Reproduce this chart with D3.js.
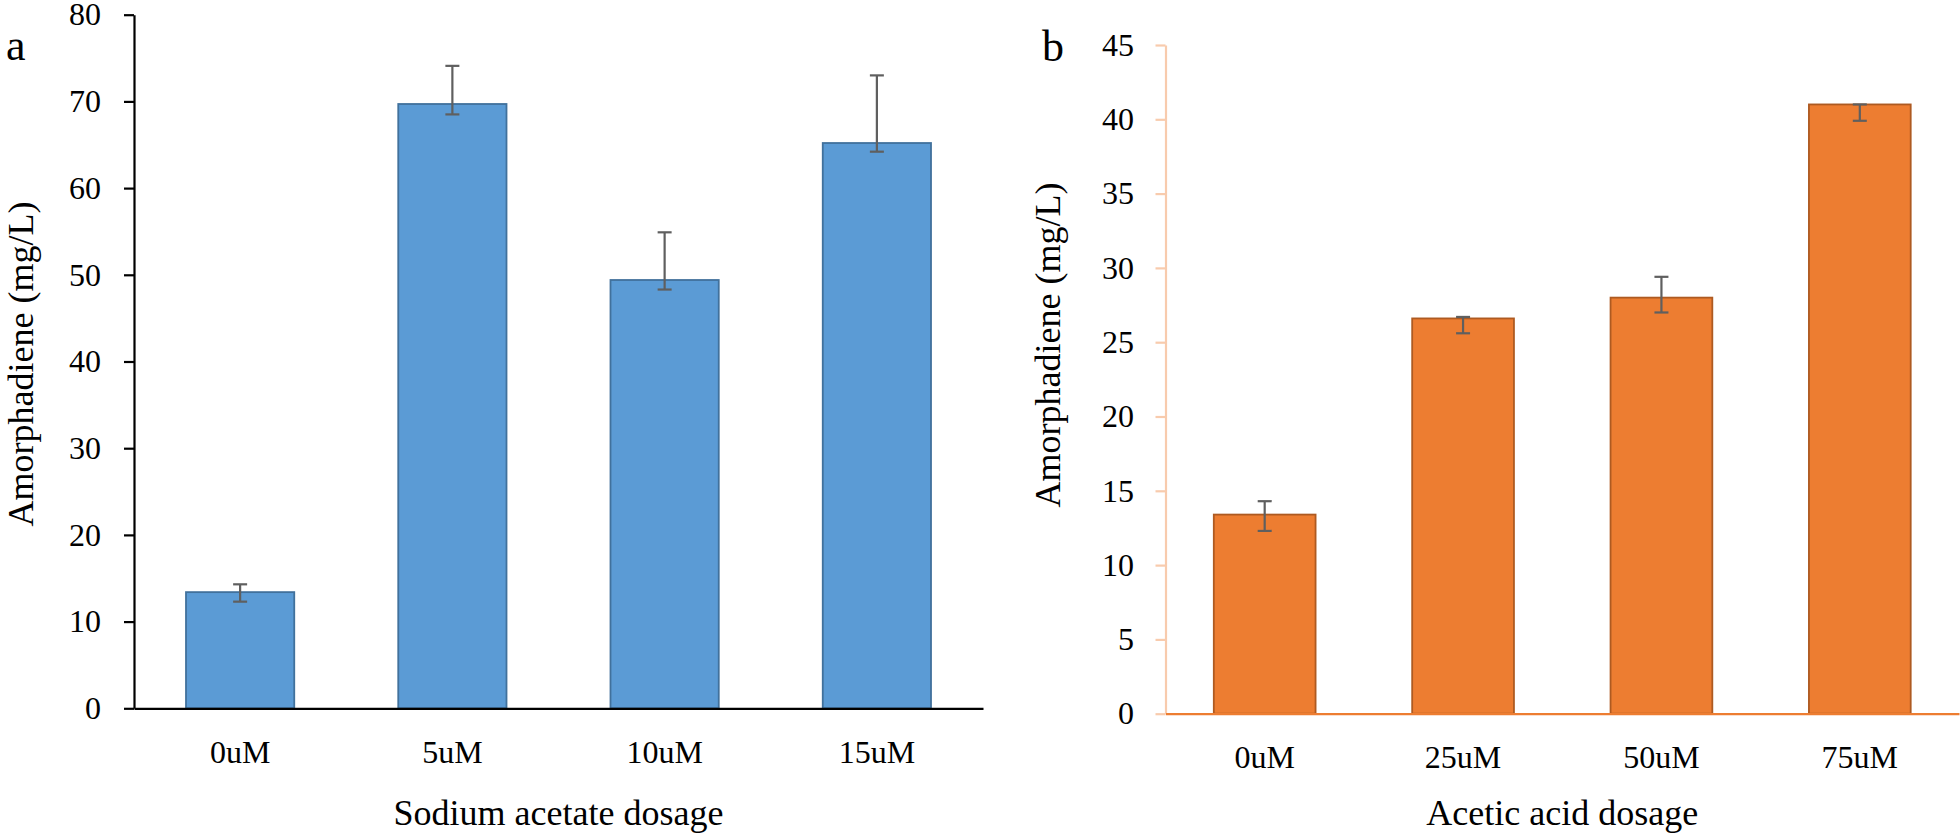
<!DOCTYPE html>
<html>
<head>
<meta charset="utf-8">
<script src="https://cdn.jsdelivr.net/npm/d3@7"></script>
<style>
  html, body { margin: 0; padding: 0; background: #fff; }
  svg { display: block; }
  text { font-family: "Liberation Serif", "Times New Roman", serif; fill: #000; }
</style>
</head>
<body>
<svg id="chart" width="1960" height="840"></svg>
<script>
// ---- Panel a data ----
const catsA = ["0uM", "5uM", "10uM", "15uM"];
const valsA = [13.4, 69.7, 49.4, 65.2];
const errHiA = [14.3, 74.1, 54.9, 73.0];
const errLoA = [12.3, 68.5, 48.3, 64.2];
const ticksA = [0, 10, 20, 30, 40, 50, 60, 70, 80];

// ---- Panel b data ----
const catsB = ["0uM", "25uM", "50uM", "75uM"];
const valsB = [13.4, 26.6, 28.0, 41.0];
const errHiB = [14.3, 26.7, 29.4, 41.0];
const errLoB = [12.3, 25.6, 27.0, 39.9];
const ticksB = [0, 5, 10, 15, 20, 25, 30, 35, 40, 45];

const svg = d3.select("#chart");

function panel(opts) {
  const g = svg.append("g");
  const x = d3.scaleBand().domain(opts.cats).range(opts.xr)
    .paddingInner(opts.pad).paddingOuter(opts.pad / 2);
  const y = d3.scaleLinear().domain(opts.yd).range(opts.yr);

  // y axis
  const ya = g.append("g").attr("transform", `translate(${opts.xr[0]},0)`)
    .call(d3.axisLeft(y).tickValues(opts.ticks).tickSize(10).tickSizeOuter(0).tickPadding(opts.tpad));
  ya.select(".domain").attr("stroke", opts.yAxisColor).attr("stroke-width", 2.2);
  ya.selectAll(".tick line").attr("stroke", opts.yAxisColor).attr("stroke-width", 2.2);
  ya.selectAll(".tick text").style("font-size", "32px").style("font-family", '"Liberation Serif", "Times New Roman", serif').attr("fill", "#000");

  // bars
  const data = opts.cats.map((c, i) => ({ c, v: opts.vals[i], hi: opts.hi[i], lo: opts.lo[i] }));
  g.selectAll("rect.bar").data(data).enter().append("rect")
    .attr("class", "bar")
    .attr("x", d => x(d.c))
    .attr("width", x.bandwidth())
    .attr("y", d => y(d.v))
    .attr("height", d => y(0) - y(d.v))
    .attr("fill", opts.fill)
    .attr("stroke", opts.stroke)
    .attr("stroke-width", 1.8);

  // x axis
  const xa = g.append("g").attr("transform", `translate(0,${y(0)})`)
    .call(d3.axisBottom(x).tickSize(0).tickPadding(32));
  xa.select(".domain").attr("stroke", opts.xAxisColor).attr("stroke-width", 2.2);
  xa.selectAll(".tick text").style("font-size", "32px").style("font-family", '"Liberation Serif", "Times New Roman", serif').attr("fill", "#000");

  // error bars
  const eb = g.selectAll("g.err").data(data).enter().append("g").attr("class", "err");
  const cx = d => x(d.c) + x.bandwidth() / 2;
  eb.append("line").attr("x1", cx).attr("x2", cx)
    .attr("y1", d => y(d.hi)).attr("y2", d => y(d.lo))
    .attr("stroke", "#5f5f5f").attr("stroke-width", 2.2);
  eb.append("line").attr("x1", d => cx(d) - 7).attr("x2", d => cx(d) + 7)
    .attr("y1", d => y(d.hi)).attr("y2", d => y(d.hi))
    .attr("stroke", "#5f5f5f").attr("stroke-width", 2.2);
  eb.append("line").attr("x1", d => cx(d) - 7).attr("x2", d => cx(d) + 7)
    .attr("y1", d => y(d.lo)).attr("y2", d => y(d.lo))
    .attr("stroke", "#5f5f5f").attr("stroke-width", 2.2);

  // axis titles
  g.append("text")
    .attr("transform", `translate(${opts.ytx},${opts.yty}) rotate(-90)`)
    .attr("text-anchor", "middle").style("font-size", "36px")
    .text("Amorphadiene (mg/L)");
  g.append("text")
    .attr("x", (opts.xr[0] + opts.xr[1]) / 2).attr("y", 825)
    .attr("text-anchor", "middle").style("font-size", "36px")
    .text(opts.xtitle);
  g.append("text")
    .attr("x", opts.lx).attr("y", opts.ly).style("font-size", "44px")
    .text(opts.letter);
}

panel({
  cats: catsA, vals: valsA, hi: errHiA, lo: errLoA, ticks: ticksA,
  xr: [134, 983], pad: 0.49, yd: [0, 80], yr: [708.3, 14.7], tpad: 23,
  yAxisColor: "#000", xAxisColor: "#000",
  fill: "#5B9BD5", stroke: "#41719C",
  ytx: 33, yty: 364, xtitle: "Sodium acetate dosage",
  letter: "a", lx: 6, ly: 60
});

panel({
  cats: catsB, vals: valsB, hi: errHiB, lo: errLoB, ticks: ticksB,
  xr: [1165.5, 1959], pad: 0.487, yd: [0, 45], yr: [713.7, 45], tpad: 21.5,
  yAxisColor: "#F8CBAD", xAxisColor: "#ED7D31",
  fill: "#ED7D31", stroke: "#AE5A21",
  ytx: 1060, yty: 345, xtitle: "Acetic acid dosage",
  letter: "b", lx: 1042, ly: 61
});
</script>
</body>
</html>
